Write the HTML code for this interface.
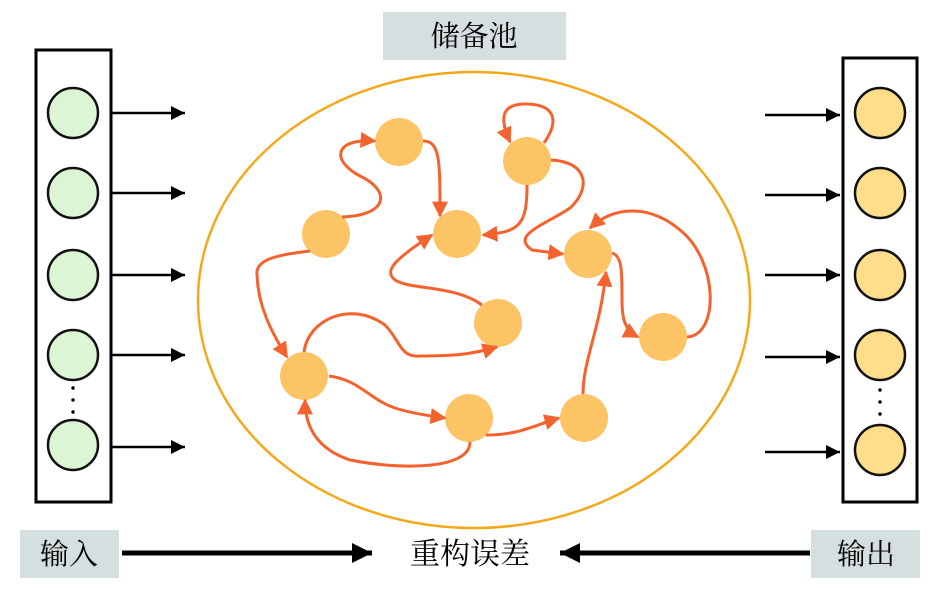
<!DOCTYPE html>
<html><head><meta charset="utf-8"><style>
body{margin:0;background:#fff;width:946px;height:589px;overflow:hidden}
svg text{font-family:"Liberation Serif","Noto Serif CJK SC",serif}
</style></head><body>
<svg width="946" height="589" viewBox="0 0 946 589" xmlns="http://www.w3.org/2000/svg">
<defs>
<marker id="o" viewBox="0 0 10 10" refX="9" refY="5" markerWidth="19" markerHeight="16" orient="auto" markerUnits="userSpaceOnUse">
<path d="M0,0 L10,5 L0,10 z" fill="#f4622e"/>
</marker>
<marker id="k" viewBox="0 0 10 10" refX="10" refY="5" markerWidth="16" markerHeight="14" orient="auto" markerUnits="userSpaceOnUse">
<path d="M0,0 L10,5 L0,10 z" fill="#000"/>
</marker>
<marker id="kb" viewBox="0 0 10 10" refX="10" refY="5" markerWidth="22" markerHeight="20" orient="auto" markerUnits="userSpaceOnUse">
<path d="M0,0 L10,5 L0,10 z" fill="#000"/>
</marker>
</defs>
<rect x="383" y="12" width="183" height="48" fill="#d6dfdf"/>
<text x="474" y="46" font-size="29" text-anchor="middle">储备池</text>
<rect x="20" y="530" width="99" height="48" fill="#d6dfdf"/>
<text x="69" y="564" font-size="29" text-anchor="middle">输入</text>
<rect x="811" y="530" width="109" height="48" fill="#d6dfdf"/>
<text x="866" y="564" font-size="29" text-anchor="middle">输出</text>
<text x="470" y="564" font-size="30" text-anchor="middle">重构误差</text>
<line x1="122" y1="553" x2="372" y2="553" stroke="#000" stroke-width="5" marker-end="url(#kb)"/>
<line x1="810" y1="553" x2="560" y2="553" stroke="#000" stroke-width="5" marker-end="url(#kb)"/>
<rect x="36" y="50" width="75" height="452" fill="#fff" stroke="#000" stroke-width="3"/>
<g fill="#dcf5d4" stroke="#111" stroke-width="2.5">
<circle cx="73" cy="113" r="25"/><circle cx="73" cy="193" r="25"/><circle cx="73" cy="275" r="25"/><circle cx="73" cy="355" r="25"/><circle cx="73" cy="445" r="25"/>
</g>
<g fill="#000"><circle cx="73" cy="388" r="1.7"/><circle cx="73" cy="400" r="1.7"/><circle cx="73" cy="412" r="1.7"/></g>
<g stroke="#000" stroke-width="2.5">
<line x1="111" y1="113" x2="185" y2="113" marker-end="url(#k)"/>
<line x1="111" y1="193" x2="185" y2="193" marker-end="url(#k)"/>
<line x1="111" y1="275" x2="185" y2="275" marker-end="url(#k)"/>
<line x1="111" y1="355" x2="185" y2="355" marker-end="url(#k)"/>
<line x1="111" y1="447" x2="185" y2="447" marker-end="url(#k)"/>
</g>
<rect x="843" y="58" width="74" height="444" fill="#fff" stroke="#000" stroke-width="3"/>
<g fill="#fede8a" stroke="#111" stroke-width="2.5">
<circle cx="880" cy="113" r="25"/><circle cx="880" cy="193" r="25"/><circle cx="880" cy="275" r="25"/><circle cx="880" cy="355" r="25"/><circle cx="880" cy="450" r="25"/>
</g>
<g fill="#000"><circle cx="880" cy="390" r="1.7"/><circle cx="880" cy="402" r="1.7"/><circle cx="880" cy="414" r="1.7"/></g>
<g stroke="#000" stroke-width="2.5">
<line x1="765" y1="115" x2="840" y2="115" marker-end="url(#k)"/>
<line x1="765" y1="195" x2="840" y2="195" marker-end="url(#k)"/>
<line x1="765" y1="275" x2="840" y2="275" marker-end="url(#k)"/>
<line x1="765" y1="357" x2="840" y2="357" marker-end="url(#k)"/>
<line x1="765" y1="452" x2="840" y2="452" marker-end="url(#k)"/>
</g>
<ellipse cx="474" cy="300" rx="276" ry="228" fill="none" stroke="#f5a81c" stroke-width="2.5"/>
<g fill="#fdc466">
<circle cx="326" cy="234" r="24"/><circle cx="399" cy="142" r="24"/><circle cx="457" cy="234" r="24"/>
<circle cx="527" cy="161" r="24"/><circle cx="588" cy="254" r="24"/><circle cx="498" cy="323" r="24"/>
<circle cx="663" cy="337" r="24"/><circle cx="304" cy="376" r="24"/><circle cx="469" cy="418" r="24"/>
<circle cx="584" cy="418" r="24"/>
</g>
<g fill="none" stroke="#f4622e" stroke-width="3" marker-end="url(#o)">
<path d="M342,217 C390,215 390,190 360,176 C330,160 335,138 375,141"/>
<path d="M423,141 C440,141 440,160 440,216"/>
<path d="M527,185 C527,225 520,232 483,235"/>
<path d="M544,143 C560,120 555,104 525,104 C500,104 500,120 510,142"/>
<path d="M551,160 C590,162 590,190 570,208 C545,225 510,235 532,250 L563,254"/>
<path d="M687,337 C720,335 718,260 680,230 C650,205 615,205 590,228"/>
<path d="M612,253 C622,256 622,270 622,300 C622,320 625,330 638,337"/>
<path d="M482,305 C455,285 410,290 395,280 C385,272 390,262 432,235"/>
<path d="M304,352 C308,320 350,300 385,325 C400,340 400,358 420,356 C450,356 470,355 497,347"/>
<path d="M310,251 C275,255 255,260 257,275 C258,305 270,330 287,357"/>
<path d="M329,376 C360,380 370,400 395,408 C410,413 430,416 445,418"/>
<path d="M486,435 C520,435 535,425 559,418"/>
<path d="M583,394 C583,360 600,330 606,272"/>
<path d="M470,442 C470,470 400,470 350,460 C320,450 305,430 305,400"/>
</g>
</svg>
</body></html>
